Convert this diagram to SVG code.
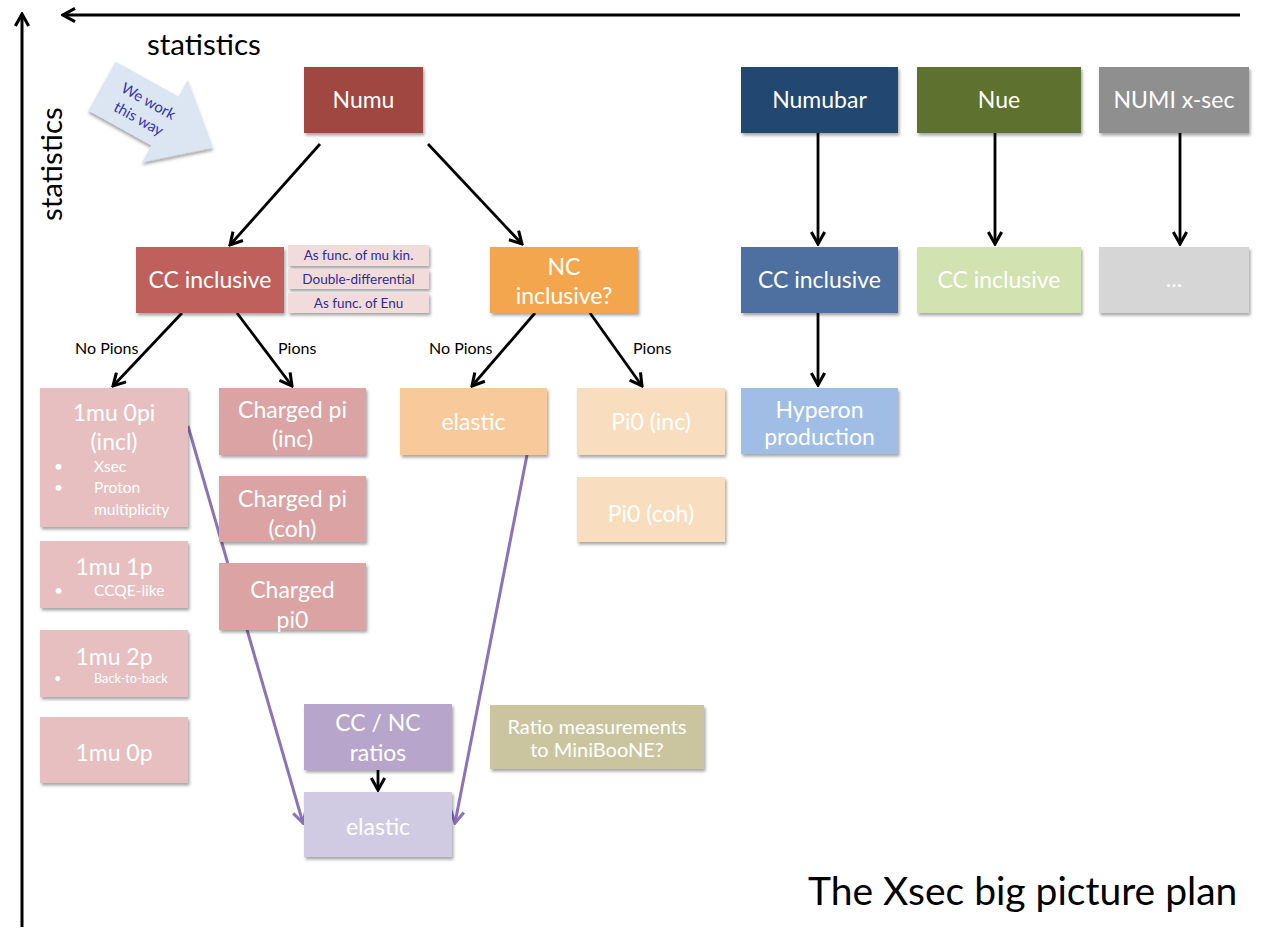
<svg xmlns="http://www.w3.org/2000/svg" width="1266" height="929" viewBox="0 0 1266 929">
  <style>
    .box { stroke: none; filter: url(#shadow); }
    .t { font-family: Lato, "Open Sans", "Liberation Sans", sans-serif; fill: #ffffff; text-anchor: middle; }
    .t20 { font-size: 23px; }
    .t22 { font-size: 23px; }
    .t19 { font-size: 20px; }
    .bul { font-family: Lato, "Open Sans", "Liberation Sans", sans-serif; fill: #ffffff; font-size: 15.5px; }
    .side { font-family: Lato, "Open Sans", "Liberation Sans", sans-serif; fill: #2e2b9e; font-size: 13.5px; text-anchor: middle; }
    .lbl { font-family: Lato, "Open Sans", "Liberation Sans", sans-serif; fill: #000000; font-size: 16px; }
    .edge { stroke: #000000; stroke-width: 2.8; fill: none; marker-end: url(#arrow); }
    .pedge { stroke: #8c72b8; stroke-width: 3; fill: none; marker-end: url(#parrow); }
    .axis { stroke: #000000; stroke-width: 3; fill: none; marker-end: url(#arrow); }
  </style>
  <defs>
    <filter id="shadow" x="-10%" y="-10%" width="130%" height="140%">
      <feDropShadow dx="1.5" dy="2.5" stdDeviation="1.5" flood-color="#000000" flood-opacity="0.35"/>
    </filter>
    <marker id="arrow" viewBox="0 0 12 12" refX="10.5" refY="6" markerWidth="16" markerHeight="16" markerUnits="userSpaceOnUse" orient="auto">
      <path d="M1.5,1 L10.5,6 L1.5,11" fill="none" stroke="#000000" stroke-width="2.3"/>
    </marker>
    <marker id="parrow" viewBox="0 0 12 12" refX="10.5" refY="6" markerWidth="16" markerHeight="16" markerUnits="userSpaceOnUse" orient="auto">
      <path d="M1.5,1 L10.5,6 L1.5,11" fill="none" stroke="#8c72b8" stroke-width="2.3"/>
    </marker>
  </defs>

  <rect x="0" y="0" width="1266" height="929" fill="#ffffff"/>

  <!-- axes -->
  <g id="axes">
    <line class="axis" x1="22" y1="927" x2="22" y2="14"/>
    <line class="axis" x1="1240" y1="15" x2="63" y2="15"/>
    <text class="lbl" x="147" y="55" style="font-size:29.5px">statistics</text>
    <text class="lbl" transform="translate(62,221) rotate(-90)" style="font-size:29.5px">statistics</text>
  </g>

  <!-- direction hint arrow -->
  <g id="work-direction" transform="translate(102,86) rotate(29)">
    <polygon points="0,-28 72,-28 72,-47 127,0 72,47 72,28 0,28" fill="#dce6f2" filter="url(#shadow)"/>
    <text x="48" y="-4" text-anchor="middle" font-family="Lato, 'Open Sans', sans-serif" font-size="15" fill="#3636b0">We work</text>
    <text x="48" y="16" text-anchor="middle" font-family="Lato, 'Open Sans', sans-serif" font-size="15" fill="#3636b0">this way</text>
  </g>

  <!-- connectors -->
  <g id="connectors">
    <line class="edge" x1="320" y1="144" x2="230" y2="245"/>
    <line class="edge" x1="428" y1="144" x2="522" y2="244"/>
    <line class="edge" x1="182" y1="313" x2="113" y2="386"/>
    <line class="edge" x1="237" y1="313" x2="292" y2="386"/>
    <line class="edge" x1="535" y1="313" x2="472" y2="386"/>
    <line class="edge" x1="590" y1="313" x2="642" y2="386"/>
    <line class="edge" x1="818" y1="133" x2="818" y2="244"/>
    <line class="edge" x1="995" y1="133" x2="995" y2="244"/>
    <line class="edge" x1="1180" y1="133" x2="1180" y2="244"/>
    <line class="edge" x1="818" y1="313" x2="818" y2="385"/>
    <line class="edge" x1="378" y1="770" x2="378" y2="790"/>
    <line class="pedge" x1="188" y1="426" x2="303" y2="823"/>
    <line class="pedge" x1="527" y1="455" x2="455" y2="823"/>
    <text class="lbl" x="75" y="354">No Pions</text>
    <text class="lbl" x="278" y="354">Pions</text>
    <text class="lbl" x="429" y="354">No Pions</text>
    <text class="lbl" x="633" y="354">Pions</text>
  </g>

  <!-- top row -->
  <g id="numu">
    <rect class="box" x="304" y="67" width="119" height="66" fill="#9f4640"/>
    <text class="t t20" x="363.5" y="108">Numu</text>
  </g>
  <g id="numubar">
    <rect class="box" x="741" y="67" width="157" height="66" fill="#24466f"/>
    <text class="t t20" x="819.5" y="108">Numubar</text>
  </g>
  <g id="nue">
    <rect class="box" x="917" y="67" width="164" height="66" fill="#5f712d"/>
    <text class="t t20" x="999" y="108">Nue</text>
  </g>
  <g id="numi">
    <rect class="box" x="1099" y="67" width="150" height="66" fill="#8f8f8f"/>
    <text class="t t20" x="1174" y="108">NUMI x-sec</text>
  </g>

  <!-- second row -->
  <g id="cc-inclusive">
    <rect class="box" x="136" y="247" width="148" height="66" fill="#c0605b"/>
    <text class="t t22" x="210" y="288">CC inclusive</text>
  </g>
  <g id="cc-variants">
    <rect class="box" x="288" y="245" width="141" height="21" fill="#f2dcdb"/>
    <text class="side" x="358.5" y="260">As func. of mu kin.</text>
    <rect class="box" x="288" y="269" width="141" height="20" fill="#f2dcdb"/>
    <text class="side" x="358.5" y="283.5">Double-differential</text>
    <rect class="box" x="288" y="293" width="141" height="20" fill="#f2dcdb"/>
    <text class="side" x="358.5" y="307.5">As func. of Enu</text>
  </g>
  <g id="nc-inclusive">
    <rect class="box" x="490" y="247" width="148" height="66" fill="#f4a650"/>
    <text class="t t22" x="564" y="275">NC</text>
    <text class="t t22" x="564" y="304">inclusive?</text>
  </g>
  <g id="numubar-cc">
    <rect class="box" x="741" y="247" width="157" height="66" fill="#4d6fa0"/>
    <text class="t t22" x="819.5" y="288">CC inclusive</text>
  </g>
  <g id="nue-cc">
    <rect class="box" x="917" y="247" width="164" height="66" fill="#d2e2b1"/>
    <text class="t t22" x="999" y="288">CC inclusive</text>
  </g>
  <g id="numi-more">
    <rect class="box" x="1099" y="247" width="150" height="66" fill="#d6d6d6"/>
    <text class="t t20" x="1174" y="287">...</text>
  </g>

  <!-- third row -->
  <g id="one-mu-zero-pi">
    <rect class="box" x="40" y="388" width="148" height="139" fill="#e7bfc0"/>
    <text class="t t22" x="114" y="421">1mu 0pi</text>
    <text class="t t22" x="114" y="450">(incl)</text>
    <text class="bul" x="54" y="472">•</text>
    <text class="bul" x="94" y="472">Xsec</text>
    <text class="bul" x="54" y="493">•</text>
    <text class="bul" x="94" y="493">Proton</text>
    <text class="bul" x="94" y="515">multiplicity</text>
  </g>
  <g id="one-mu-one-p">
    <rect class="box" x="40" y="541" width="148" height="67" fill="#e7bfc0"/>
    <text class="t t22" x="114" y="575">1mu 1p</text>
    <text class="bul" x="54" y="596">•</text>
    <text class="bul" x="94" y="596">CCQE-like</text>
  </g>
  <g id="one-mu-two-p">
    <rect class="box" x="40" y="630" width="148" height="67" fill="#e7bfc0"/>
    <text class="t t22" x="114" y="665">1mu 2p</text>
    <text class="bul" x="54" y="683" style="font-size:12.7px">•</text>
    <text class="bul" x="94" y="683" style="font-size:12.7px">Back-to-back</text>
  </g>
  <g id="one-mu-zero-p">
    <rect class="box" x="40" y="717" width="148" height="66" fill="#e7bfc0"/>
    <text class="t t22" x="114" y="761">1mu 0p</text>
  </g>

  <g id="charged-pi-inc">
    <rect class="box" x="219" y="388" width="147" height="67" fill="#dba3a3"/>
    <text class="t t22" x="292.5" y="418">Charged pi</text>
    <text class="t t22" x="292.5" y="447">(inc)</text>
  </g>
  <g id="charged-pi-coh">
    <rect class="box" x="219" y="476" width="147" height="66" fill="#dba3a3"/>
    <text class="t t22" x="292.5" y="507">Charged pi</text>
    <text class="t t22" x="292.5" y="537">(coh)</text>
  </g>
  <g id="charged-pi0">
    <rect class="box" x="219" y="563" width="147" height="67" fill="#dba3a3"/>
    <text class="t t22" x="292.5" y="598">Charged</text>
    <text class="t t22" x="292.5" y="628">pi0</text>
  </g>

  <g id="nc-elastic">
    <rect class="box" x="400" y="388" width="147" height="67" fill="#f7c99b"/>
    <text class="t t22" x="473.5" y="430">elastic</text>
  </g>
  <g id="pi0-inc">
    <rect class="box" x="577" y="388" width="148" height="67" fill="#f9ddbf"/>
    <text class="t t22" x="651" y="430">Pi0 (inc)</text>
  </g>
  <g id="pi0-coh">
    <rect class="box" x="577" y="477" width="148" height="65" fill="#f9ddbf"/>
    <text class="t t22" x="651" y="522">Pi0 (coh)</text>
  </g>
  <g id="hyperon">
    <rect class="box" x="741" y="388" width="157" height="66" fill="#a0bde6"/>
    <text class="t t22" x="819.5" y="418">Hyperon</text>
    <text class="t t22" x="819.5" y="445">production</text>
  </g>

  <!-- bottom -->
  <g id="cc-nc-ratios">
    <rect class="box" x="304" y="704" width="148" height="66" fill="#b7a5cb"/>
    <text class="t t22" x="378" y="731">CC / NC</text>
    <text class="t t22" x="378" y="761">ratios</text>
  </g>
  <g id="ratio-elastic">
    <rect class="box" x="304" y="792" width="148" height="65" fill="#d0cae2"/>
    <text class="t t22" x="378" y="835">elastic</text>
  </g>
  <g id="miniboone-ratio">
    <rect class="box" x="490" y="705" width="214" height="64" fill="#cbc59f"/>
    <text class="t t19" x="597" y="734">Ratio measurements</text>
    <text class="t t19" x="597" y="757">to MiniBooNE?</text>
  </g>

  <text x="808" y="905" font-family="Lato, 'Open Sans', 'Liberation Sans', sans-serif" font-size="39" fill="#000000">The Xsec big picture plan</text>
</svg>
